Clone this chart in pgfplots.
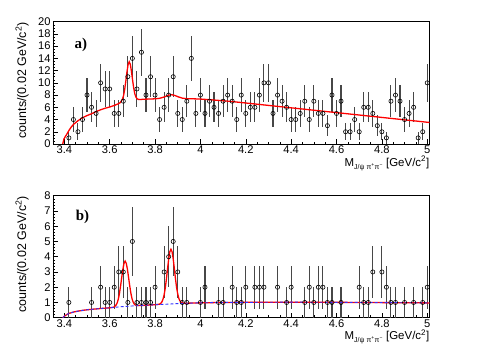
\documentclass[border=0pt]{standalone}
\usepackage{fontspec}
\setmainfont{Liberation Sans}
\newfontfamily\serifbf{Liberation Serif}
\usepackage{pgfplots}
\usepackage{pgfplotstable}
\pgfplotsset{compat=1.18}

% top panel: counts per 0.02 GeV bin, error = sqrt(n)
\pgfplotstableread{
m n e
3.42 1 1.000
3.44 4 2.000
3.46 2 1.414
3.48 4 2.000
3.50 8 2.828
3.52 6 2.449
3.54 5 2.236
3.56 10 3.162
3.58 9 3.000
3.60 9 3.000
3.62 5 2.236
3.64 5 2.236
3.66 7 2.646
3.68 11 3.317
3.70 14 3.742
3.72 9 3.000
3.74 15 3.873
3.76 8 2.828
3.78 11 3.317
3.80 8 2.828
3.82 4 2.000
3.84 6 2.449
3.86 8 2.828
3.88 11 3.317
3.90 5 2.236
3.92 4 2.000
3.94 7 2.646
3.96 14 3.742
3.98 5 2.236
4.00 8 2.828
4.02 5 2.236
4.04 7 2.646
4.06 6 2.449
4.08 5 2.236
4.10 7 2.646
4.12 8 2.828
4.14 7 2.646
4.16 4 2.000
4.18 8 2.828
4.20 5 2.236
4.22 6 2.449
4.24 6 2.449
4.26 8 2.828
4.28 10 3.162
4.30 10 3.162
4.32 5 2.236
4.34 8 2.828
4.36 7 2.646
4.38 6 2.449
4.40 4 2.000
4.42 4 2.000
4.44 5 2.236
4.46 7 2.646
4.48 4 2.000
4.50 7 2.646
4.52 5 2.236
4.54 5 2.236
4.56 3 1.732
4.58 8 2.828
4.60 5 2.236
4.62 7 2.646
4.64 2 1.414
4.66 2 1.414
4.68 4 2.000
4.70 2 1.414
4.72 6 2.449
4.74 6 2.449
4.76 5 2.236
4.78 3 1.732
4.80 2 1.414
4.82 1 1.000
4.84 7 2.646
4.86 8 2.828
4.88 7 2.646
4.90 4 2.000
4.92 5 2.236
4.94 6 2.449
4.96 1 1.000
4.98 2 1.414
5.00 10 3.162
}\dataA

\pgfplotstableread{
m f
3.393 0
3.398 0.8
3.404 1.2
3.41 1.55
3.42 2.2
3.43 2.75
3.44 3.2
3.46 3.8
3.48 4.3
3.50 4.65
3.52 4.95
3.54 5.3
3.56 5.6
3.58 5.85
3.60 6.05
3.62 6.3
3.636 6.55
3.646 6.75
3.656 7.3
3.661 7.9
3.666 8.9
3.671 10.25
3.676 11.76
3.681 12.97
3.686 13.45
3.691 13.02
3.696 11.86
3.701 10.41
3.706 9.11
3.711 8.17
3.716 7.65
3.721 7.39
3.726 7.30
3.736 7.28
3.75 7.32
3.78 7.36
3.80 7.39
3.82 7.47
3.84 7.69
3.85 7.84
3.86 7.98
3.872 8.05
3.88 8.02
3.89 7.9
3.90 7.74
3.92 7.5
3.94 7.41
3.96 7.4
4.00 7.35
4.05 7.22
4.10 7.07
4.15 6.9
5.01 3.52
}\fitA

% bottom panel
\pgfplotstableread{
m n e
3.42 1 1.000
3.52 1 1.000
3.56 2 1.414
3.58 1 1.000
3.60 1 1.000
3.62 2 1.414
3.64 3 1.732
3.66 3 1.732
3.68 1 1.000
3.70 5 2.236
3.72 1 1.000
3.74 1 1.000
3.76 1 1.000
3.78 1 1.000
3.80 2 1.414
3.84 3 1.732
3.86 4 2.000
3.88 5 2.236
3.90 3 1.732
3.92 1 1.000
3.94 1 1.000
4.00 1 1.000
4.02 2 1.414
4.08 1 1.000
4.10 1 1.000
4.14 2 1.414
4.16 1 1.000
4.18 1 1.000
4.20 2 1.414
4.24 2 1.414
4.26 2 1.414
4.28 2 1.414
4.34 2 1.414
4.38 1 1.000
4.40 2 1.414
4.46 1 1.000
4.48 2 1.414
4.50 1 1.000
4.52 2 1.414
4.54 2 1.414
4.56 1 1.000
4.58 1 1.000
4.62 1 1.000
4.70 2 1.414
4.72 1 1.000
4.74 1 1.000
4.76 3 1.732
4.80 3 1.732
4.82 2 1.414
4.84 1 1.000
4.86 1 1.000
4.90 1 1.000
4.94 1 1.000
4.98 1 1.000
5.00 2 1.414
}\dataB

\pgfplotstableread{
m f
3.393 0
3.40 0.1
3.41 0.2
3.42 0.28
3.44 0.37
3.46 0.43
3.48 0.48
3.50 0.52
3.55 0.59
3.60 0.65
3.618 0.69
3.623 0.75
3.628 0.83
3.633 0.97
3.638 1.22
3.643 1.59
3.648 2.08
3.653 2.63
3.658 3.17
3.663 3.56
3.668 3.71
3.673 3.57
3.678 3.19
3.683 2.66
3.688 2.12
3.693 1.64
3.698 1.27
3.703 1.04
3.708 0.9
3.713 0.83
3.718 0.8
3.75 0.81
3.80 0.85
3.82 0.89
3.825 0.94
3.830 1.03
3.835 1.21
3.840 1.50
3.845 1.94
3.850 2.53
3.855 3.20
3.860 3.85
3.865 4.32
3.870 4.49
3.875 4.33
3.880 3.86
3.885 3.22
3.890 2.55
3.895 1.97
3.900 1.55
3.905 1.26
3.910 1.09
3.915 1.01
3.920 0.97
3.93 0.95
3.95 0.955
4.00 0.975
4.10 1.0
4.40 1.02
4.70 1.0
5.01 0.97
}\fitB

\pgfplotstableread{
m f
3.393 0
3.40 0.1
3.41 0.2
3.42 0.28
3.44 0.37
3.46 0.43
3.48 0.48
3.50 0.52
3.55 0.59
3.60 0.65
3.65 0.72
3.70 0.77
3.75 0.81
3.80 0.85
3.85 0.885
3.90 0.925
3.95 0.955
4.00 0.975
4.10 1.0
4.40 1.02
4.70 1.0
5.01 0.97
}\bkgB

\pgfplotsset{
  rootaxis/.style={
    scale only axis, width=376.5bp,
    xmin=3.35, xmax=5.01, ymin=0,
    xtick={3.4,3.6,3.8,4,4.2,4.4,4.6,4.8,5},
    minor x tick num=3,
    tick align=inside, tick pos=left,
    major tick length=4.5bp, minor tick length=2.2bp,
    every tick/.style={black, line width=0.5pt},
    axis line style={black, line width=0.7pt},
    ticklabel style={font=\fontsize{11.2}{13}\selectfont},
    yticklabel style={xshift=1bp},
    /pgf/number format/assume math mode=true,
    xlabel={M\raisebox{-0.5ex}{\fontsize{7}{8}\selectfont J/ψ π\textsuperscript{+}π\textsuperscript{−}} [GeV/c\textsuperscript{2}]},
    xlabel style={at={(axis description cs:1,0)}, anchor=north east,
      yshift=-12bp, inner sep=0pt, font=\fontsize{11.5}{13}\selectfont},
    ylabel={counts/(0.02 GeV/c\textsuperscript{2})},
    ylabel style={at={(axis description cs:-0.082,0.52)}, anchor=center,
      inner sep=0pt, font=\fontsize{12.5}{14}\selectfont},
    xticklabel style={yshift=1.5bp},
  },
  errs/.style={draw=none, mark=none, forget plot,
    error bars/.cd, y dir=both, y explicit,
    error bar style={draw=black!72, line width=1.1pt}, error mark=none},
  pts/.style={only marks, mark=o, mark size=2.1bp,
    mark options={draw=black, fill=white, line width=0.6pt}},
  fitline/.style={red, line width=1.3pt},
}

\begin{document}
\begin{tikzpicture}
\useasboundingbox (0,0) rectangle (481bp,355bp);

\begin{axis}[rootaxis, at={(53bp,211bp)}, height=122.3bp,
  ymax=20, ytick={0,2,...,20}, minor y tick num=3]
\addplot[errs] table[x=m, y=n, y error=e] {\dataA};
\addplot[pts] table[x=m, y=n] {\dataA};
\addplot[fitline] table[x=m, y=f] {\fitA};
\node[anchor=west, font=\serifbf\bfseries\fontsize{15}{17}\selectfont]
  at (axis cs:3.43,16.2) {a)};
\end{axis}

\begin{axis}[rootaxis, at={(53bp,37.3bp)}, height=122bp,
  ymax=8, ytick={0,1,...,8}, minor y tick num=4]
\addplot[errs] table[x=m, y=n, y error=e] {\dataB};
\addplot[pts] table[x=m, y=n] {\dataB};
\addplot[fitline] table[x=m, y=f] {\fitB};
\addplot[blue!80, line width=0.9pt, dash pattern=on 3pt off 2pt] table[x=m, y=f] {\bkgB};
\node[anchor=west, font=\serifbf\bfseries\fontsize{15}{17}\selectfont]
  at (axis cs:3.435,6.6) {b)};
\end{axis}
\end{tikzpicture}
\end{document}
